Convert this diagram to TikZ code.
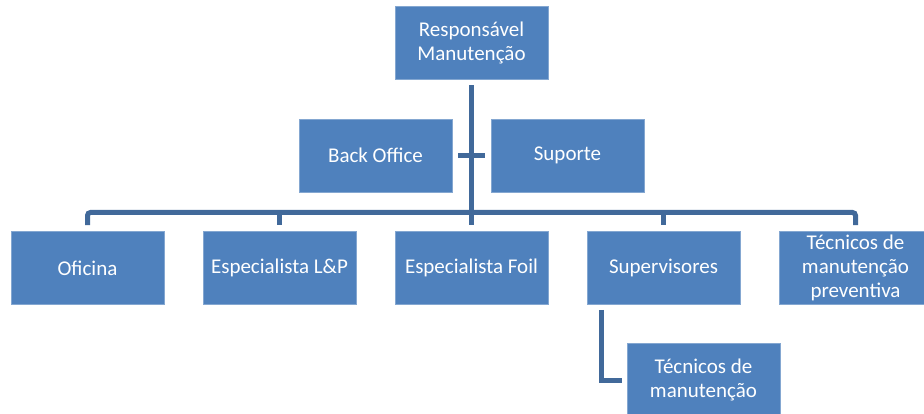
\documentclass[tikz,border=0pt]{standalone}
\usepackage{fontspec}
\setmainfont{Carlito}
\definecolor{boxblue}{HTML}{4F81BD}
\definecolor{lineblue}{HTML}{41699A}
\begin{document}
\begin{tikzpicture}[x=1pt,y=-1pt,
  orgbox/.style={rectangle, fill=boxblue, draw=boxblue!70!white, line width=0.6pt,
    minimum width=153pt, minimum height=73pt, inner sep=0pt, text=white, align=center,
    font=\fontsize{21}{24}\selectfont},
  conn/.style={draw=lineblue, line width=5pt}]
\useasboundingbox (0,0) rectangle (924,414);
\clip (0,0) rectangle (924,414);
\node[orgbox] (top) at (471.5,42.5) {Responsável\\Manutenção};
\node[orgbox] (backoffice) at (375.5,155.5) {Back Office};
\node[orgbox] (suporte) at (567.5,155.5) {Suporte};
\node[orgbox] (oficina) at (87.5,268) {Oficina};
\node[orgbox] (lp) at (279.5,268) {Especialista L\&P};
\node[orgbox] (foil) at (471.5,268) {Especialista Foil};
\node[orgbox] (sup) at (663.5,268) {Supervisores};
\node[orgbox] (prev) at (855.5,268) {Técnicos de\\manutenção\\preventiva};
\node[orgbox] (tm) at (703.5,380) {Técnicos de\\manutenção};
\coordinate (bus) at (471.5,212.5);
% connectors
\draw[conn] ([yshift=-6pt]top.south) -- ([yshift=6pt]foil.north);
\draw[conn] ([xshift=6pt]backoffice.east) -- ([xshift=-6pt]suporte.west);
\draw[conn, rounded corners=3pt] ([yshift=6pt]oficina.north) -- (oficina.north |- bus) -- (prev.north |- bus) -- ([yshift=6pt]prev.north);
\draw[conn] (lp.north |- bus) -- ([yshift=6pt]lp.north);
\draw[conn] (sup.north |- bus) -- ([yshift=6pt]sup.north);
\draw[conn] ([xshift=-62.5pt,yshift=-5pt]sup.south) |- ([xshift=-5pt]tm.west);
\end{tikzpicture}
\end{document}
